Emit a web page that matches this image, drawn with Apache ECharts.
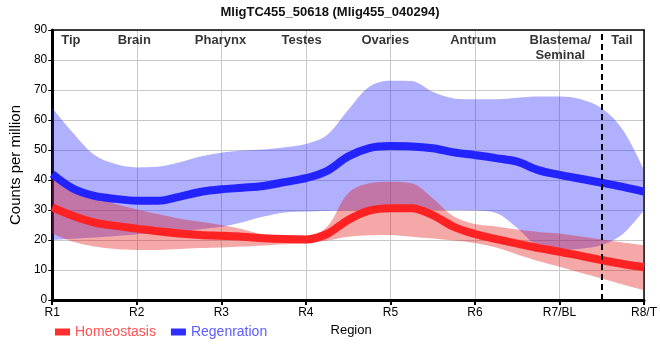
<!DOCTYPE html>
<html>
<head>
<meta charset="utf-8">
<script src="https://cdn.jsdelivr.net/npm/echarts@6/dist/echarts.min.js"></script>
<style>html,body{margin:0;padding:0;background:#fff;}#c{width:660px;height:360px;}</style>
</head>
<body>
<div id="c"></div>
<script>
// Region tick labels (one per integer position)
var regions = ['R1', 'R2', 'R3', 'R4', 'R5', 'R6', 'R7/BL', 'R8/T'];
// Sample positions along the region axis (quarter steps)
var xSamples = ['0','0.25','0.5','0.75','1','1.25','1.5','1.75','2','2.25','2.5','2.75','3','3.25','3.5','3.75','4','4.25','4.5','4.75','5','5.25','5.5','5.75','6','6.25','6.5','6.75','7'];

// Homeostasis (red)
var homeoMean  = [30.9, 28, 25.8, 24.7, 23.8, 22.9, 22.2, 21.7, 21.4, 21.1, 20.6, 20.3, 20.2, 22, 26.7, 29.8, 30.6, 30.6, 28.3, 24.4, 22, 20.3, 18.8, 17.3, 16.1, 14.7, 13.3, 12, 10.9];
var homeoUpper = [40.9, 36.7, 33.9, 32, 30.2, 28.7, 27.2, 26.1, 25, 23.6, 21.8, 21.2, 21.1, 24.4, 35.6, 38.9, 39.4, 38.9, 33.9, 27.8, 25.3, 24.5, 23.5, 22.7, 22.2, 21.2, 20.2, 19.2, 18.3];
var homeoLower = [22.2, 19.4, 17.8, 17, 16.7, 16.7, 17, 17.3, 17.5, 17.8, 18.2, 18.6, 18.9, 19.8, 21.1, 21.6, 21.7, 21.1, 20.5, 19.8, 19, 17.5, 15.2, 13, 11.1, 9.1, 7.2, 5.2, 3.3];

// Regeneration (blue)
var regenMean  = [42, 37.1, 34.7, 33.7, 33.1, 33.1, 34.4, 36, 36.9, 37.4, 38, 39.3, 40.6, 43, 47.8, 50.6, 51.3, 51.2, 50.6, 49.2, 48.3, 47.3, 46.1, 43.3, 41.7, 40.4, 39.1, 37.7, 36.1];
var regenUpper = [64, 55.6, 48.3, 45.3, 44.2, 44.4, 45.8, 47.8, 49.1, 49.8, 50.2, 50.9, 52, 55, 63.3, 71.1, 73.1, 73, 69.4, 67.2, 66.9, 66.9, 67.4, 67.8, 67.8, 66.9, 63.9, 56.7, 43.3];
var regenLower = [20, 20.4, 20.8, 21.3, 21.9, 22.4, 23, 23.6, 24.4, 25.9, 27.8, 29.2, 29.5, 29.7, 29.8, 29.9, 30, 30, 30, 29.9, 29.8, 29, 24, 17.8, 16.7, 17.1, 18.3, 22, 30];

// Anatomical labels along the top and their positions on the region axis
var anatomyNames = ['Tip', 'Brain', 'Pharynx', 'Testes', 'Ovaries', 'Antrum', 'Blastema/\nSeminal', 'Tail'];
var anatomyPos   = [0.22, 0.97, 1.99, 2.95, 3.94, 4.98, 6.01, 6.74];
var tailBoundary = 6.5;

var yTicks = {min: 0, max: 90, step: 10};

function diff(a, b) { return a.map(function (v, i) { return +(v - b[i]).toFixed(2); }); }

var chart = echarts.init(document.getElementById('c'), null, {renderer: 'canvas'});
var FONT = 'Liberation Sans, Arial, sans-serif';
var smoothVal = 0.35;

function bandSeries(prefix, lower, upper, color) {
  return [
    {name: prefix + 'Low', type: 'line', stack: prefix, data: lower, smooth: smoothVal, showSymbol: false,
     lineStyle: {opacity: 0}, silent: true, xAxisIndex: 0, yAxisIndex: 0},
    {name: prefix + 'Band', type: 'line', stack: prefix, data: diff(upper, lower), smooth: smoothVal, showSymbol: false,
     lineStyle: {opacity: 0}, areaStyle: {color: color, opacity: 1}, silent: true, xAxisIndex: 0, yAxisIndex: 0}
  ];
}

var series = [];
series = series.concat(bandSeries('regen', regenLower, regenUpper, 'rgba(40,40,255,0.37)'));
series.push({name: 'Regenration', type: 'line', data: regenMean, smooth: smoothVal, showSymbol: false,
  lineStyle: {color: '#2323ff', width: 8}, itemStyle: {color: '#2e2eff'}, xAxisIndex: 0, yAxisIndex: 0});
series = series.concat(bandSeries('homeo', homeoLower, homeoUpper, 'rgba(225,20,20,0.37)'));
series.push({name: 'Homeostasis', type: 'line', data: homeoMean, smooth: smoothVal, showSymbol: false,
  lineStyle: {color: '#ff2222', width: 8}, itemStyle: {color: '#ff2e2e'}, xAxisIndex: 0, yAxisIndex: 0});
series.push({
  name: 'anatomy', type: 'scatter', xAxisIndex: 1, yAxisIndex: 0, clip: false, silent: true,
  symbolSize: 0,
  data: anatomyPos.map(function (p, i) { return {value: [p, yTicks.max], label: {formatter: anatomyNames[i]}}; }),
  label: {show: true, position: 'bottom', distance: 3, color: '#000', fontSize: 13, fontWeight: 'bold',
    fontFamily: FONT, lineHeight: 15},
  markLine: {silent: true, symbol: 'none', label: {show: false},
    lineStyle: {color: '#000', type: [6, 4], width: 2},
    data: [{xAxis: tailBoundary}]}
});

chart.setOption({
  animation: false,
  backgroundColor: '#fff',
  title: {text: 'MligTC455_50618 (Mlig455_040294)', left: 'center', top: 1,
    textStyle: {fontSize: 13, fontWeight: 'bold', color: '#111', fontFamily: FONT}},
  legend: {
    left: 50, top: 320, icon: 'rect', itemWidth: 15, itemHeight: 7, itemGap: 15,
    textStyle: {fontSize: 14, fontFamily: FONT},
    data: [
      {name: 'Homeostasis', textStyle: {color: '#ff5252'}},
      {name: 'Regenration', textStyle: {color: '#5c5cff'}}
    ]
  },
  grid: {left: 50, right: 10, top: 30, bottom: 60, containLabel: false},
  xAxis: [
    {type: 'category', data: xSamples, boundaryGap: false,
     axisLine: {onZero: false, lineStyle: {color: '#000', width: 3}},
     axisTick: {interval: 3, length: 5, lineStyle: {color: '#000', width: 2}},
     axisLabel: {interval: 3, color: '#000', fontSize: 12, fontFamily: FONT, margin: 7,
       formatter: function (v, i) { return regions[i / 4]; }},
     splitLine: {show: true, interval: 3, lineStyle: {color: '#c8c8c8', width: 1}},
     name: 'Region', nameLocation: 'middle', nameGap: 23,
     nameTextStyle: {color: '#000', fontSize: 13, fontFamily: FONT, padding: [0, 0, 0, 6]}},
    {type: 'value', min: 0, max: regions.length - 1, position: 'top',
     axisLine: {show: true, onZero: false, lineStyle: {color: '#000', width: 1.5}},
     axisTick: {show: false}, axisLabel: {show: false}, splitLine: {show: false}}
  ],
  yAxis: [
    {type: 'value', min: yTicks.min, max: yTicks.max, interval: yTicks.step,
     axisLine: {show: true, onZero: false, lineStyle: {color: '#000', width: 3}},
     axisTick: {show: true, length: 4, lineStyle: {color: '#000', width: 1}},
     axisLabel: {color: '#000', fontSize: 12, fontFamily: FONT, margin: 5},
     splitLine: {show: true, lineStyle: {color: '#c8c8c8', width: 1}},
     name: 'Counts per million', nameLocation: 'middle', nameGap: 23,
     nameTextStyle: {color: '#000', fontSize: 15, fontFamily: FONT}},
    {type: 'value', min: yTicks.min, max: yTicks.max, interval: yTicks.step, position: 'right',
     axisLine: {show: true, onZero: false, lineStyle: {color: '#000', width: 1.5}},
     axisTick: {show: false}, axisLabel: {show: false}, splitLine: {show: false}}
  ],
  series: series
});
</script>
</body>
</html>
